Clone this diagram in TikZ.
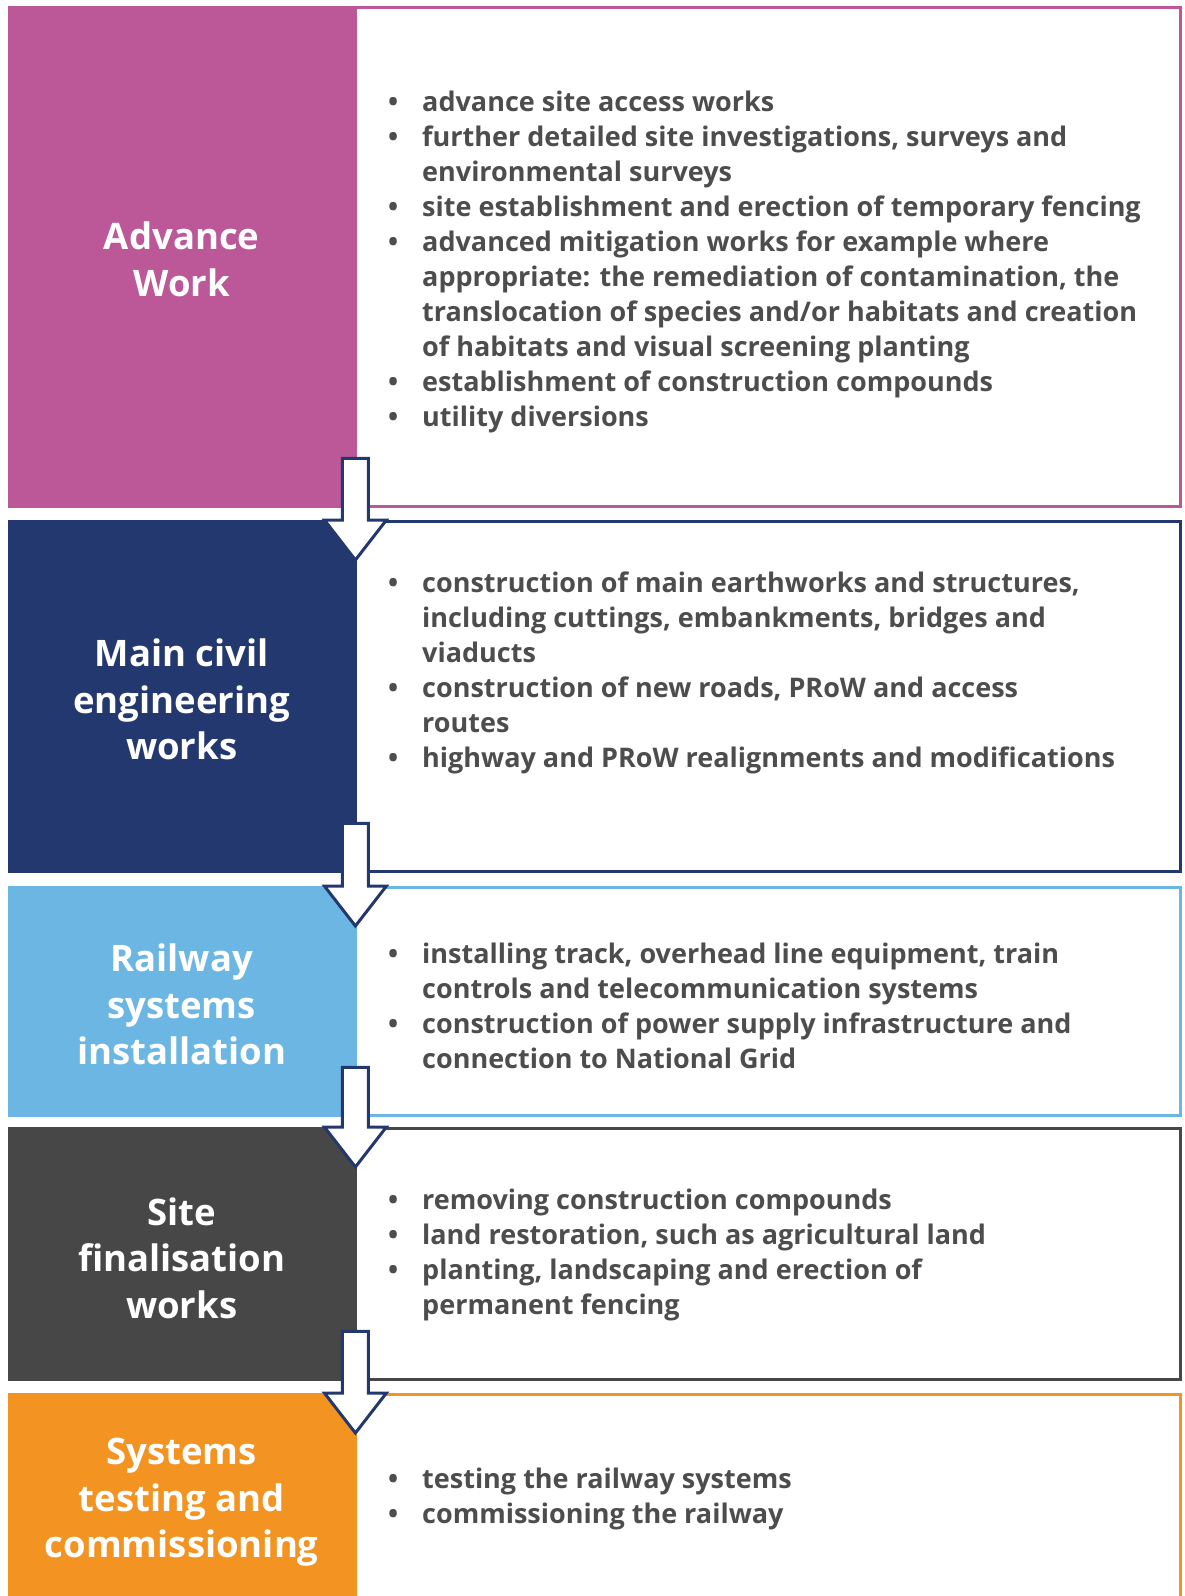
\documentclass[tikz,border=0pt]{standalone}
\usepackage{fontspec}
\setmainfont{Open Sans}
\usetikzlibrary{calc}
\definecolor{cpink}{RGB}{188,88,152}
\definecolor{cnavy}{RGB}{35,56,110}
\definecolor{cblue}{RGB}{107,182,227}
\definecolor{cgray}{RGB}{71,71,71}
\definecolor{corange}{RGB}{242,147,34}
\definecolor{ctext}{RGB}{77,77,77}
\newcommand{\bitem}[1]{\makebox[34pt][l]{•}#1}
\newcommand{\bcont}[1]{\hspace*{34pt}#1}
\tikzset{
  colbox/.style={fill=#1, draw=none, inner sep=0pt, anchor=north west, minimum width=347pt},
  whitebox/.style={draw=#1, line width=3pt, fill=white},
  titletext/.style={text=white, font=\fontsize{36.5}{46.5}\selectfont\bfseries, align=center, inner sep=0pt},
  bodytext/.style={text=ctext, font=\fontsize{27}{35}\selectfont\bfseries, align=left, inner sep=0pt, anchor=west},
  blockarrow/.style={draw=cnavy, fill=white, line width=3pt, line join=miter}
}
\begin{document}
\begin{tikzpicture}[x=1pt,y=-1pt]
\useasboundingbox (0,0) rectangle (1184,1596);
\clip (0,0) rectangle (1184,1596);
% white boxes
\draw[whitebox=cpink] (355,7.5) rectangle (1180.5,506.5);
\draw[whitebox=cnavy] (355,521.5) rectangle (1180.5,871.5);
\draw[whitebox=cblue] (355,887.5) rectangle (1180.5,1115.5);
\draw[whitebox=cgray] (355,1128.5) rectangle (1180.5,1379.5);
\draw[whitebox=corange] (355,1600) -- (355,1394.5) -- (1180.5,1394.5) -- (1180.5,1600);
% coloured boxes
\node[colbox=cpink, minimum height=502pt] (c1) at (8,6) {};
\node[colbox=cnavy, minimum height=353pt] (c2) at (8,520) {};
\node[colbox=cblue, minimum height=231pt] (c3) at (8,886) {};
\node[colbox=cgray, minimum height=254pt] (c4) at (8,1127) {};
\node[colbox=corange, minimum height=210pt] (c5) at (8,1393) {};
% titles
\node[titletext] (t1) at ($(c1.center)+(0,2)$) {Advance\\Work};
\node[titletext] (t2) at ($(c2.center)+(0,3)$) {Main civil\\engineering\\works};
\node[titletext] (t3) at ($(c3.center)+(0,3)$) {Railway\\systems\\installation};
\node[titletext] (t4) at ($(c4.center)+(0,4)$) {Site\\finalisation\\works};
\node[titletext] (t5) at ($(c5.center)+(0,4)$) {Systems\\testing and\\commissioning};
% body texts
\node[bodytext] (b1) at (388,262) {\bitem{advance site access works}\\
\bitem{further detailed site investigations, surveys and}\\
\bcont{environmental surveys}\\
\bitem{site establishment and erection of temporary fencing}\\
\bitem{advanced mitigation works for example where}\\
\bcont{appropriate: the remediation of contamination, the}\\
\bcont{translocation of species and/or habitats and creation}\\
\bcont{of habitats and visual screening planting}\\
\bitem{establishment of construction compounds}\\
\bitem{utility diversions}};
\node[bodytext] (b2) at (388,673) {\bitem{construction of main earthworks and structures,}\\
\bcont{including cuttings, embankments, bridges and}\\
\bcont{viaducts}\\
\bitem{construction of new roads, PRoW and access}\\
\bcont{routes}\\
\bitem{highway and PRoW realignments and modifications}};
\node[bodytext] (b3) at (388,1006) {\bitem{installing track, overhead line equipment, train}\\
\bcont{controls and telecommunication systems}\\
\bitem{construction of power supply infrastructure and}\\
\bcont{connection to National Grid}};
\node[bodytext] (b4) at (388,1255) {\bitem{removing construction compounds}\\
\bitem{land restoration, such as agricultural land}\\
\bitem{planting, landscaping and erection of}\\
\bcont{permanent fencing}};
\node[bodytext] (b5) at (388,1499) {\bitem{testing the railway systems}\\
\bitem{commissioning the railway}};
% arrows
\foreach \a/\b in {c1/c2,c2/c3,c3/c4,c4/c5}{
  \draw[blockarrow] let \p1=(\a.south east), \p2=(\b.north east) in
    (\x1-13pt,\y1+50pt) -- (\x1+13pt,\y1+50pt) -- (\x1+13pt,\y2) -- (\x1+31pt,\y2)
    -- (\x1,\y2-40pt) -- (\x1-31pt,\y2) -- (\x1-13pt,\y2) -- cycle;
}
\end{tikzpicture}
\end{document}
